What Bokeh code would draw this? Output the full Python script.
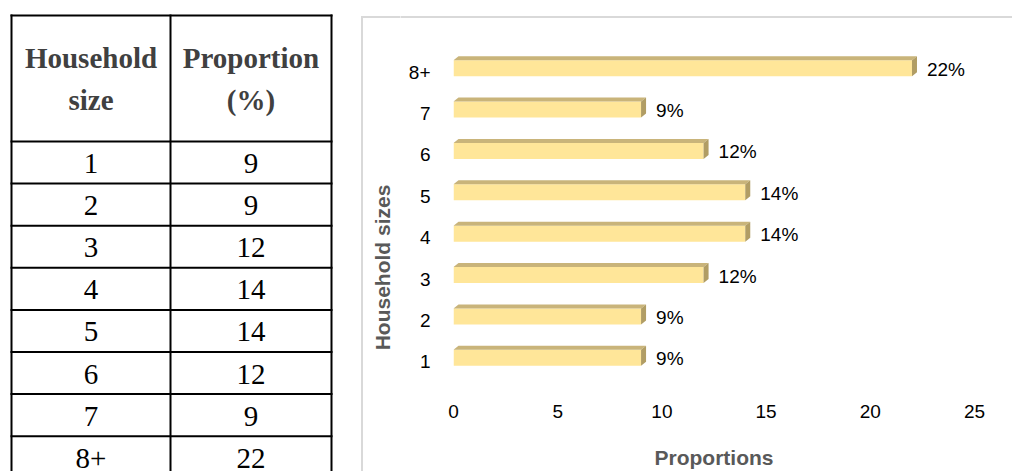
import math
from bokeh.plotting import figure
from bokeh.layouts import row, column
from bokeh.models import Range1d, FixedTicker
from bokeh.core.properties import value
from bokeh.embed import file_html
from bokeh.resources import INLINE

# ---------------- data ----------------
sizes = ["1", "2", "3", "4", "5", "6", "7", "8+"]
proportions = [9, 9, 12, 14, 14, 12, 9, 22]
table_header_1 = ["Household", "Proportion"]
table_header_2 = ["size", "(%)"]
x_ticks = [0, 5, 10, 15, 20, 25]
x_title = "Proportions"
y_title = "Household sizes"

# ---------------- layout constants ----------------
W, H = 1012, 471
LW = 400            # left figure (table + chart box edge + y title)
RW = W - LW         # right side (chart)
STRIP_H = 18
SERIF = value("Liberation Serif")
SANS = "Liberation Sans"
BOX_COLOR = "#D9D9D9"
TITLE_COLOR = "#595959"


def plain(width, height):
    f = figure(width=width, height=height, x_range=Range1d(0, width), y_range=Range1d(height, 0),
               output_backend="svg", toolbar_location=None, min_border=0,
               x_axis_type=None, y_axis_type=None)
    f.outline_line_color = None
    f.background_fill_color = "white"
    f.border_fill_color = "white"
    return f


def no_align(f):
    if "frame_align" in f.properties():
        f.frame_align = False


# ---------------- table (left figure) ----------------
t = plain(LW, H)

col_edges = [11, 170, 331]
col_centers = [(col_edges[0] + col_edges[1]) / 2, (col_edges[1] + col_edges[2]) / 2]
tab_top, head_bot, row_h = 15, 141, 42.1
row_tops = [head_bot + i * row_h for i in range(len(sizes))]
hlines = [tab_top, head_bot] + [rt + row_h for rt in row_tops[:-1]]

t.segment(x0=col_edges[0] - 1, x1=col_edges[-1] + 1, y0=hlines, y1=hlines,
          line_color="black", line_width=2)
t.segment(x0=col_edges, x1=col_edges, y0=[tab_top - 1] * 3, y1=[H + 10] * 3,
          line_color="black", line_width=2)

BASE_FIX = 11   # svg alphabetic baseline sits lower than expected
t.text(x=col_centers, y=[68 - BASE_FIX] * 2, text=table_header_1, text_font=SERIF,
       text_font_style="bold", text_font_size="29px", text_color="#404040",
       text_align="center", text_baseline="alphabetic")
t.text(x=col_centers, y=[110 - BASE_FIX] * 2, text=table_header_2, text_font=SERIF,
       text_font_style="bold", text_font_size="29px", text_color="#404040",
       text_align="center", text_baseline="alphabetic")
t.text(x=[col_centers[0]] * len(sizes), y=[rt + 33 - BASE_FIX for rt in row_tops], text=sizes,
       text_font=SERIF, text_font_size="29px", text_color="black",
       text_align="center", text_baseline="alphabetic")
t.text(x=[col_centers[1]] * len(sizes), y=[rt + 33 - BASE_FIX for rt in row_tops],
       text=[str(v) for v in proportions],
       text_font=SERIF, text_font_size="29px", text_color="black",
       text_align="center", text_baseline="alphabetic")

# chart box: left edge and start of top edge
box_left, box_top = 361.5, 16.5
t.segment(x0=[box_left, box_left - 1], x1=[box_left, LW + 1],
          y0=[box_top - 1, box_top], y1=[H + 10, box_top],
          line_color=BOX_COLOR, line_width=2)
# y axis title (rotated)
t.text(x=[382], y=[267], text=[y_title], angle=math.pi / 2,
       text_font=value(SANS), text_font_style="bold", text_font_size="21px",
       text_color=TITLE_COLOR, text_align="center", text_baseline="middle")

# ---------------- top strip of chart box ----------------
s = plain(RW, STRIP_H)
s.segment(x0=[-1], x1=[RW + 1], y0=[box_top], y1=[box_top], line_color=BOX_COLOR, line_width=2)

# ---------------- chart ----------------
CH = H - STRIP_H
ML, MR, MT, MB = 53, 38, 51 - STRIP_H, 88
p = figure(width=RW, height=CH, x_range=Range1d(0, 25), y_range=Range1d(0.5, 8.5),
           output_backend="svg", toolbar_location=None,
           min_border_left=ML, min_border_right=MR, min_border_top=MT, min_border_bottom=MB)
p.outline_line_color = None
p.xgrid.visible = False
p.ygrid.visible = False
p.background_fill_color = "white"
p.border_fill_color = "white"

fw = RW - ML - MR
fh = CH - MT - MB
px_x = fw / 25.0
px_y = fh / 8.0

ypos = list(range(1, len(sizes) + 1))
lift = 4 / px_y
bar_h = 16 / px_y
dx = 5 / px_x
dy = 4 / px_y
fc = [y + lift for y in ypos]
tops = [c + bar_h / 2 for c in fc]
bots = [c - bar_h / 2 for c in fc]

p.hbar(y=fc, left=0, right=proportions, height=bar_h, fill_color="#FFE699", line_color=None)
p.patches(xs=[[0, v, v + dx, dx] for v in proportions],
          ys=[[tp, tp, tp + dy, tp + dy] for tp in tops],
          fill_color="#C9B47A", line_color=None)
p.patches(xs=[[v, v + dx, v + dx, v] for v in proportions],
          ys=[[tp, tp + dy, b + dy, b] for tp, b in zip(tops, bots)],
          fill_color="#B19D64", line_color=None)

p.text(x=proportions, y=fc, text=[f"{v}%" for v in proportions], x_offset=15, y_offset=1,
       text_font=value(SANS), text_font_size="19px", text_color="black",
       text_align="left", text_baseline="middle")

p.xaxis.ticker = FixedTicker(ticks=x_ticks)
p.yaxis.ticker = FixedTicker(ticks=ypos)
p.yaxis.major_label_overrides = {y: s_ for y, s_ in zip(ypos, sizes)}
for a in (p.xaxis[0], p.yaxis[0]):
    a.axis_line_color = None
    a.major_tick_line_color = None
    a.minor_tick_line_color = None
    a.major_tick_out = 0
    a.major_tick_in = 0
    a.major_label_text_font = SANS
    a.major_label_text_font_size = "19px"
    a.major_label_text_color = "black"
p.xaxis.major_label_standoff = 22
p.yaxis.major_label_standoff = 23
p.xaxis.axis_label = x_title
p.xaxis.axis_label_text_font = SANS
p.xaxis.axis_label_text_font_style = "bold"
p.xaxis.axis_label_text_font_size = "21px"
p.xaxis.axis_label_text_color = TITLE_COLOR
p.xaxis.axis_label_standoff = 25

for f in (t, s, p):
    no_align(f)

layout = row(t, column(s, p, spacing=0), spacing=0)
open("out.html", "w").write(file_html(layout, INLINE))
